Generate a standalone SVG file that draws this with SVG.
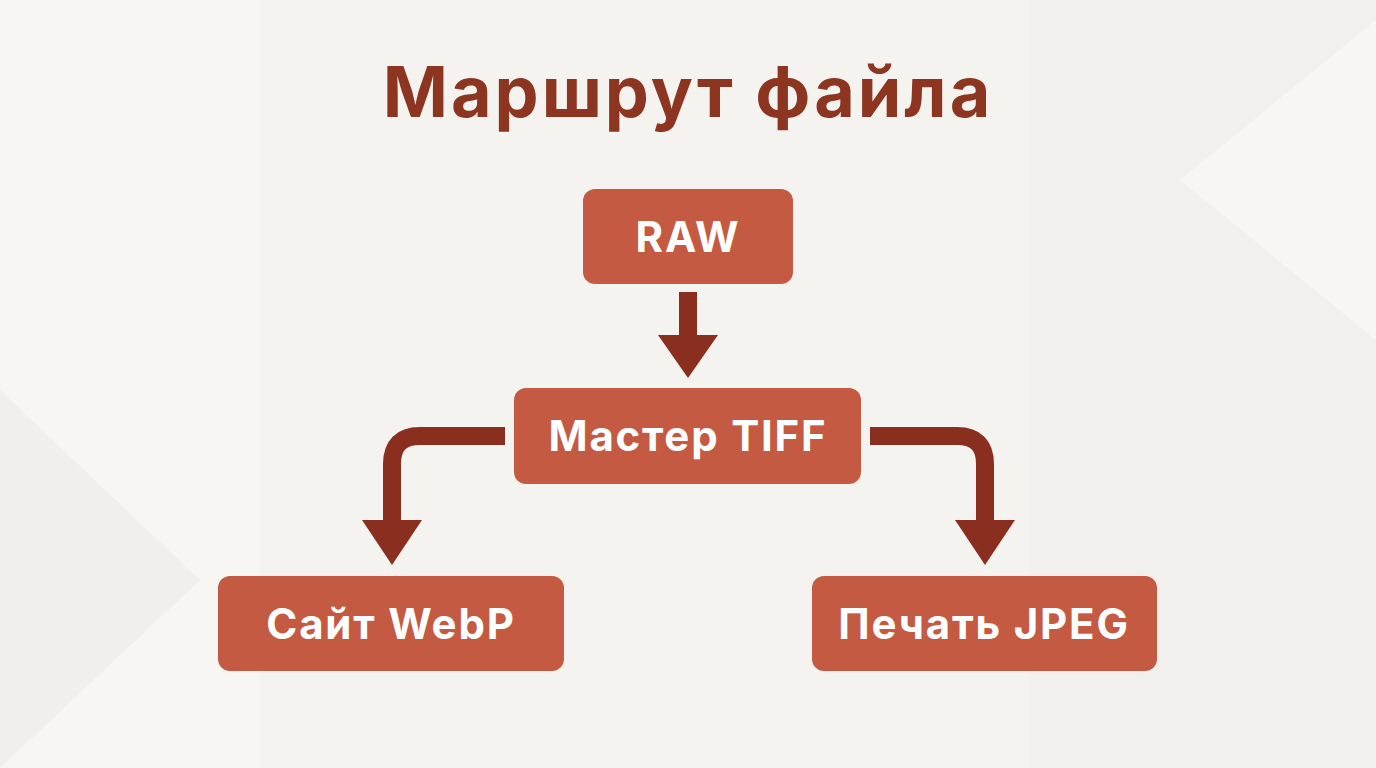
<svg xmlns="http://www.w3.org/2000/svg" width="1376" height="768" viewBox="0 0 1376 768">
<defs><style>
.n{fill:#C45A41}
.t{fill:#fff;font-family:Inter,"Open Sans",sans-serif;font-weight:700;font-size:42px;letter-spacing:1.8px;text-anchor:middle}
.c{fill:none;stroke:#8A2F1F;stroke-width:18}
.h{fill:#8A2F1F}
</style></defs>
<rect width="1376" height="768" fill="#F4F3EF"/>
<polygon points="0,0 260,0 260,768 0,768" fill="#F7F6F3"/>
<polygon points="1030,0 1376,0 1376,768 1030,768" fill="#F1F0EC"/>
<polygon points="1180,180 1376,20 1376,340" fill="#F7F6F3"/>
<polygon points="0,390 200,580 0,768" fill="#F0EFEB"/>
<text x="688" y="117" font-family="Inter,'Open Sans',sans-serif" font-weight="700" font-size="70" letter-spacing="3" fill="#8C3520" text-anchor="middle">Маршрут файла</text>
<g id="connectors">
<path class="c" d="M688 292V338"/>
<polygon class="h" points="658,335 718,335 688,378"/>
<path class="c" d="M505 436H420Q392 436 392 464V525"/>
<polygon class="h" points="362,520 422,520 392,565"/>
<path class="c" d="M870 436H957Q985 436 985 464V525"/>
<polygon class="h" points="955,520 1015,520 985,565"/>
</g>
<g id="raw"><rect class="n" x="583" y="189" width="210" height="95" rx="12"/><text class="t" x="688" y="252">RAW</text></g>
<g id="master"><rect class="n" x="514" y="388" width="347" height="96" rx="12"/><text class="t" x="688" y="451">Мастер TIFF</text></g>
<g id="webp"><rect class="n" x="218" y="576" width="346" height="95" rx="12"/><text class="t" x="391" y="639">Сайт WebP</text></g>
<g id="jpeg"><rect class="n" x="812" y="576" width="345" height="95" rx="12"/><text class="t" x="984" y="639">Печать JPEG</text></g>
</svg>
